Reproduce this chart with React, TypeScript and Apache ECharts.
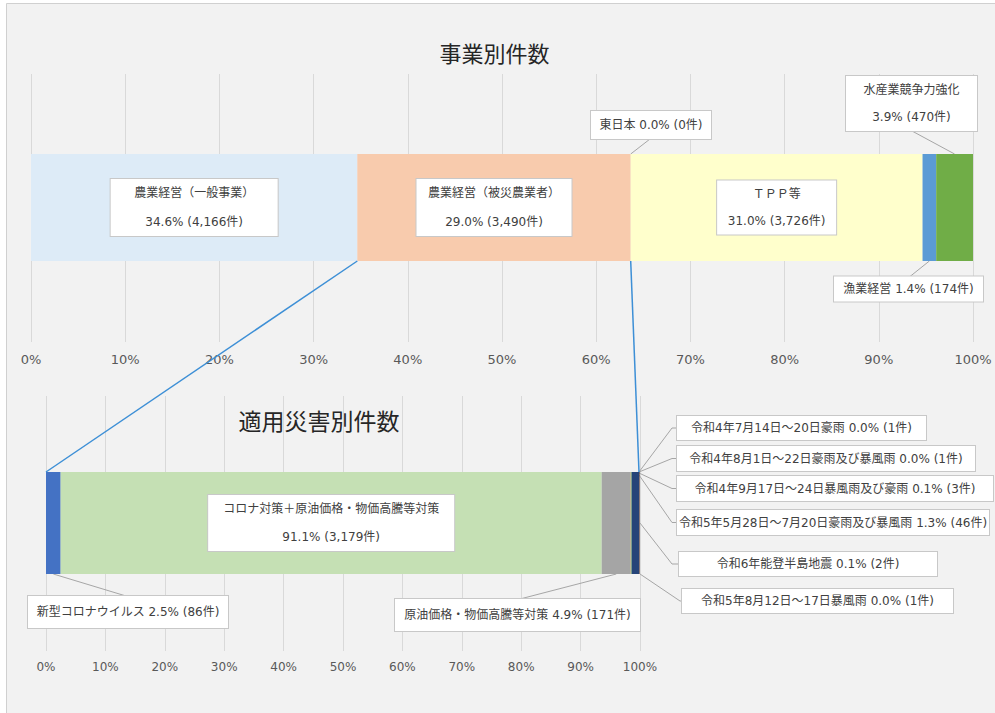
import React, { useEffect, useRef } from 'react';
import * as echarts from 'echarts';

const FONT = '"Noto Sans CJK JP", "Noto Sans", sans-serif';
const FONT_MIX = '"DejaVu Sans", "Noto Sans CJK JP", sans-serif';

// ---------- data ----------
const topTitle = '事業別件数';
const bottomTitle = '適用災害別件数';

const topNames = ['農業経営（一般事業）', '農業経営（被災農業者）', '東日本', 'ＴＰＰ等', '漁業経営', '水産業競争力強化'];
const topCounts = [4166, 3490, 0, 3726, 174, 470];
const topPercents = ['34.6%', '29.0%', '0.0%', '31.0%', '1.4%', '3.9%'];

const bottomNames = [
  '新型コロナウイルス',
  'コロナ対策＋原油価格・物価高騰等対策',
  '原油価格・物価高騰等対策',
  '令和4年7月14日～20日豪雨',
  '令和4年8月1日～22日豪雨及び暴風雨',
  '令和4年9月17日～24日暴風雨及び豪雨',
  '令和5年5月28日～7月20日豪雨及び暴風雨',
  '令和6年能登半島地震',
  '令和5年8月12日～17日暴風雨',
];
const bottomCounts = [86, 3179, 171, 1, 1, 3, 46, 2, 1];
const bottomPercents = ['2.5%', '91.1%', '4.9%', '0.0%', '0.0%', '0.1%', '1.3%', '0.1%', '0.0%'];

const axisMin = 0;
const axisMax = 100;
const axisInterval = 10;

// ---------- styles / layout ----------
const topColors = ['#ddebf7', '#f8cbad', '#a5a5a5', '#ffffcc', '#5b9bd5', '#70ad47'];
const bottomColors = ['#4472c4', '#c5e0b4', '#a5a5a5', '#ffc000', '#5b9bd5', '#70ad47', '#264478', '#9e480e', '#636363'];

const TOP_AXIS = { left: 31, right: 22, top: 74, height: 268 };
const TOP_BAR = { left: 31, right: 22, top: 154, height: 107 };
const BOT_AXIS = { left: 46, right: 355, top: 396, height: 255 };
const BOT_BAR = { left: 46, right: 355, top: 472, height: 102 };

type Box = { inside?: boolean; x?: number; y?: number; w: number; h: number; lines?: number };
const topBoxes: Box[] = [
  { inside: true, w: 167, h: 57, lines: 2 },
  { inside: true, w: 155, h: 57, lines: 2 },
  { x: 651, y: 125, w: 120, h: 28 },
  { inside: true, w: 119, h: 54, lines: 2 },
  { x: 908.5, y: 289, w: 149, h: 25 },
  { x: 911.5, y: 103.5, w: 131, h: 55, lines: 2 },
];
const bottomBoxes: Box[] = [
  { x: 128, y: 612, w: 200, h: 32 },
  { inside: true, w: 246, h: 56, lines: 2 },
  { x: 517.5, y: 615, w: 245, h: 32 },
  { x: 801.5, y: 428, w: 249, h: 24 },
  { x: 826, y: 458.5, w: 298, h: 25 },
  { x: 835, y: 488.5, w: 316, h: 25 },
  { x: 833, y: 522.5, w: 312, h: 25 },
  { x: 808, y: 564, w: 258, h: 24 },
  { x: 817.5, y: 601, w: 271, h: 24 },
];

// leader lines: anchor on the bar + fixed route points toward the label box
type Leader = { idx: number; at: 'start' | 'center' | 'end'; edge: 'top' | 'bottom' | 'mid'; dx?: number; dy?: number; route: number[][] };
const topLeaders: Leader[] = [
  { idx: 2, at: 'start', edge: 'top', route: [[650, 139]] },
  { idx: 4, at: 'center', edge: 'bottom', route: [[910, 276.5]] },
  { idx: 5, at: 'center', edge: 'top', route: [[912, 131]] },
];
const bottomLeaders: Leader[] = [
  { idx: 0, at: 'center', edge: 'bottom', route: [[126, 596]] },
  { idx: 2, at: 'center', edge: 'bottom', route: [[520, 599]] },
  { idx: 3, at: 'end', edge: 'top', dx: -1, route: [[672, 428], [677, 428]] },
  { idx: 4, at: 'end', edge: 'top', dx: -1, route: [[672, 458.5], [677, 458.5]] },
  { idx: 5, at: 'end', edge: 'top', dx: -1, dy: 1, route: [[672, 488.5], [677, 488.5]] },
  { idx: 6, at: 'end', edge: 'top', dx: -1, dy: 3, route: [[672, 522.5], [677, 522.5]] },
  { idx: 7, at: 'end', edge: 'mid', route: [[672, 564], [679, 564]] },
  { idx: 8, at: 'end', edge: 'bottom', route: [[680, 601], [682, 601]] },
];

const fmt = (n: number) => n.toLocaleString('en-US');

function buildSeries(
  names: string[], counts: number[], pcts: string[], colors: string[], boxes: Box[],
  axisIndex: number, stack: string, barWidth: number
) {
  const total = counts.reduce((a, b) => a + b, 0);
  return names.map((name, i) => {
    const b = boxes[i];
    const lines = b.lines || 1;
    const text = lines === 2
      ? `${name}\n${pcts[i]} (${fmt(counts[i])}件)`
      : `${name} ${pcts[i]} (${fmt(counts[i])}件)`;
    const s: any = {
      type: 'bar',
      name,
      stack,
      xAxisIndex: axisIndex,
      yAxisIndex: axisIndex,
      barWidth,
      silent: true,
      data: [(counts[i] / total) * 100],
      itemStyle: { color: colors[i] },
      label: {
        show: true,
        position: 'inside',
        formatter: () => text,
        width: b.w,
        lineHeight: b.h / lines,
        align: 'center',
        verticalAlign: 'middle',
        backgroundColor: '#ffffff',
        borderColor: '#c8c8c8',
        borderWidth: 1,
        padding: 0,
        color: '#404040',
        fontSize: 12,
        fontFamily: FONT_MIX,
      },
    };
    if (!b.inside) s.labelLayout = { x: b.x, y: b.y };
    return s;
  });
}

export default function App() {
  const ref = useRef<HTMLDivElement>(null);
  useEffect(() => {
    const chart = echarts.init(ref.current!, null, { renderer: 'svg' });

    const axisLabel = (fontSize: number, margin: number) => ({
      formatter: '{value}%', color: '#595959', fontSize, margin, fontFamily: FONT_MIX,
    });
    const valueAxis = (gridIndex: number, visible: boolean, fontSize = 12, margin = 8) => ({
      gridIndex, type: 'value', min: axisMin, max: axisMax, interval: axisInterval,
      show: visible,
      axisLine: { show: false }, axisTick: { show: false },
      splitLine: { show: visible, lineStyle: { color: '#d9d9d9', width: 1 } },
      axisLabel: axisLabel(fontSize, margin),
    });

    const option: any = {
      animation: false,
      backgroundColor: '#ffffff',
      grid: [
        { ...TOP_AXIS },
        { ...TOP_BAR },
        { ...BOT_AXIS },
        { ...BOT_BAR },
      ],
      xAxis: [
        valueAxis(0, true, 13, 11),
        valueAxis(1, false),
        valueAxis(2, true, 12, 10),
        valueAxis(3, false),
      ],
      yAxis: [0, 1, 2, 3].map((g) => ({ gridIndex: g, type: 'category', data: [''], show: false })),
      series: [
        ...buildSeries(topNames, topCounts, topPercents, topColors, topBoxes, 1, 'top', TOP_BAR.height),
        ...buildSeries(bottomNames, bottomCounts, bottomPercents, bottomColors, bottomBoxes, 3, 'bottom', BOT_BAR.height),
      ],
    };
    chart.setOption(option);

    const px = (axisIndex: number, v: number) => chart.convertToPixel({ xAxisIndex: axisIndex }, v) as number;

    const cumEdges = (counts: number[]) => {
      const total = counts.reduce((a, b) => a + b, 0);
      const edges: number[] = [0];
      counts.forEach((c) => edges.push(edges[edges.length - 1] + (c / total) * 100));
      return edges;
    };
    const topEdges = cumEdges(topCounts);
    const botEdges = cumEdges(bottomCounts);

    const leaderLines = (leaders: Leader[], edges: number[], axisIndex: number, bar: { top: number; height: number }) =>
      leaders.map((l) => {
        let v = edges[l.idx];
        if (l.at === 'center') v = (edges[l.idx] + edges[l.idx + 1]) / 2;
        if (l.at === 'end') v = axisMax;
        const x = px(axisIndex, v) + (l.dx || 0);
        let y = bar.top;
        if (l.edge === 'bottom') y = bar.top + bar.height;
        if (l.edge === 'mid') y = bar.top + bar.height / 2;
        y += l.dy || 0;
        return {
          type: 'polyline',
          silent: true,
          z: 1,
          shape: { points: [[x, y], ...l.route] },
          style: { stroke: '#a6a6a6', lineWidth: 1, fill: null },
        };
      });

    const blue = '#3d8fd6';
    const graphic: any[] = [
      {
        type: 'rect', silent: true, z: -100,
        shape: { x: 6.5, y: 3.5, width: 1000, height: 720 },
        style: { fill: '#f2f2f2', stroke: '#d0d0d0', lineWidth: 1 },
      },
      {
        type: 'text', silent: true, x: 494.5, y: 52,
        style: { text: topTitle, fontSize: 22, fontFamily: FONT, fill: '#262626', align: 'center', verticalAlign: 'middle' },
      },
      {
        type: 'text', silent: true, x: 319, y: 420,
        style: { text: bottomTitle, fontSize: 23, fontFamily: FONT, fill: '#262626', align: 'center', verticalAlign: 'middle' },
      },
      {
        type: 'line', silent: true, z: 5,
        shape: { x1: px(1, topEdges[1]), y1: TOP_BAR.top + TOP_BAR.height, x2: px(3, axisMin), y2: BOT_BAR.top },
        style: { stroke: blue, lineWidth: 1.5 },
      },
      {
        type: 'line', silent: true, z: 5,
        shape: { x1: px(1, topEdges[2]), y1: TOP_BAR.top + TOP_BAR.height, x2: px(3, axisMax) - 1, y2: BOT_BAR.top },
        style: { stroke: blue, lineWidth: 1.5 },
      },
      ...leaderLines(topLeaders, topEdges, 1, TOP_BAR),
      ...leaderLines(bottomLeaders, botEdges, 3, BOT_BAR),
    ];
    chart.setOption({ graphic });

    return () => chart.dispose();
  }, []);

  return (
    <div
      ref={ref}
      style={{ position: 'fixed', left: 0, top: 0, width: 995, height: 713 }}
    />
  );
}
